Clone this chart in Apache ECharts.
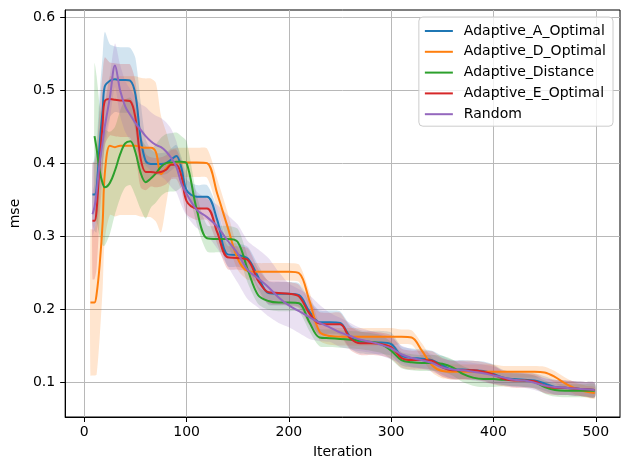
<!DOCTYPE html>
<html>
<head>
<meta charset="utf-8">
<script src="https://cdn.jsdelivr.net/npm/echarts@6/dist/echarts.min.js"></script>
<style>
  html, body { margin: 0; padding: 0; background: #fff; }
  #chart { width: 630px; height: 470px; }
</style>
</head>
<body>
<div id="chart"></div>
<script>
// iterations where values were read
var iterations = [6, 8, 10, 12, 15, 18, 20,
    25, 30, 35, 40, 45, 50, 55, 60, 65, 70, 75, 80, 85, 90, 95, 100,
    110, 120, 130, 140, 150, 160, 170, 180, 190, 200,
    210, 220, 230, 240, 250, 260, 270, 280, 290, 300,
    310, 320, 330, 340, 350, 360, 370, 380, 390, 400,
    410, 420, 430, 440, 450, 460, 470, 480, 490, 499];

var names = ['Adaptive_A_Optimal', 'Adaptive_D_Optimal', 'Adaptive_Distance', 'Adaptive_E_Optimal', 'Random'];
var colors = ['#1f77b4', '#ff7f0e', '#2ca02c', '#d62728', '#9467bd'];

var xTicks = [0, 100, 200, 300, 400, 500];
var yTicks = [0.1, 0.2, 0.3, 0.4, 0.5, 0.6];

// mean mse
var meanA = [null, 0.357, 0.357, 0.365, 0.426, 0.474, 0.505,
    0.513, 0.515, 0.514, 0.514, 0.513, 0.494, 0.435, 0.403, 0.399, 0.399, 0.399, 0.400, 0.405, 0.410, 0.393, 0.363,
    0.354, 0.354, 0.322, 0.275, 0.274, 0.269, 0.244, 0.222, 0.221, 0.221,
    0.219, 0.197, 0.182, 0.182, 0.181, 0.162, 0.155, 0.154, 0.154, 0.152,
    0.136, 0.133, 0.132, 0.130, 0.123, 0.117, 0.117, 0.116, 0.115, 0.111,
    0.106, 0.104, 0.103, 0.102, 0.098, 0.093, 0.092, 0.091, 0.090, 0.089];
var meanD = [0.209, 0.209, 0.209, 0.220, 0.260, 0.320, 0.385,
    0.424, 0.422, 0.424, 0.424, 0.424, 0.424, 0.422, 0.421, 0.421, 0.415, 0.385, 0.393, 0.400, 0.401, 0.401, 0.401,
    0.401, 0.400, 0.358, 0.313, 0.269, 0.252, 0.251, 0.251, 0.251, 0.251,
    0.249, 0.212, 0.169, 0.163, 0.162, 0.162, 0.162, 0.162, 0.162, 0.162,
    0.162, 0.161, 0.143, 0.123, 0.115, 0.114, 0.114, 0.114, 0.114, 0.114,
    0.114, 0.114, 0.114, 0.114, 0.113, 0.107, 0.098, 0.091, 0.087, 0.085];
var meanDist = [null, null, 0.437, 0.420, 0.390, 0.372, 0.367,
    0.373, 0.390, 0.412, 0.427, 0.430, 0.415, 0.387, 0.374, 0.379, 0.386, 0.395, 0.400, 0.401, 0.402, 0.402, 0.400,
    0.336, 0.297, 0.296, 0.296, 0.292, 0.253, 0.219, 0.211, 0.209, 0.209,
    0.208, 0.182, 0.161, 0.160, 0.159, 0.158, 0.157, 0.155, 0.152, 0.143,
    0.130, 0.127, 0.126, 0.126, 0.125, 0.120, 0.111, 0.106, 0.104, 0.104,
    0.103, 0.103, 0.102, 0.100, 0.093, 0.089, 0.088, 0.088, 0.088, 0.088];
var meanE = [null, 0.321, 0.321, 0.335, 0.400, 0.455, 0.485,
    0.488, 0.487, 0.486, 0.486, 0.485, 0.462, 0.407, 0.388, 0.388, 0.387, 0.388, 0.391, 0.398, 0.398, 0.382, 0.348,
    0.338, 0.338, 0.305, 0.271, 0.270, 0.267, 0.239, 0.223, 0.222, 0.221,
    0.217, 0.194, 0.180, 0.179, 0.179, 0.160, 0.153, 0.153, 0.152, 0.148,
    0.133, 0.130, 0.130, 0.129, 0.120, 0.116, 0.116, 0.116, 0.114, 0.110,
    0.104, 0.102, 0.102, 0.101, 0.095, 0.092, 0.092, 0.091, 0.090, 0.089];
var meanR = [null, 0.330, 0.340, 0.360, 0.400, 0.430, 0.450,
    0.490, 0.534, 0.500, 0.478, 0.466, 0.455, 0.446, 0.437, 0.430, 0.425, 0.422, 0.416, 0.407, 0.395, 0.372, 0.358,
    0.336, 0.326, 0.313, 0.294, 0.276, 0.253, 0.242, 0.230, 0.216, 0.205,
    0.197, 0.189, 0.181, 0.175, 0.168, 0.163, 0.158, 0.155, 0.151, 0.146,
    0.138, 0.133, 0.130, 0.126, 0.120, 0.117, 0.116, 0.114, 0.112, 0.109,
    0.106, 0.103, 0.102, 0.099, 0.095, 0.093, 0.092, 0.091, 0.090, 0.089];

// spread (half width of shaded band)
var stdA = [null, 0.04, 0.05, 0.06, 0.07, 0.075, 0.075,
    0.05, 0.045, 0.045, 0.045, 0.045, 0.05, 0.05, 0.03, 0.02, 0.015, 0.015, 0.015, 0.015, 0.015, 0.015, 0.015,
    0.016, 0.016, 0.016, 0.016, 0.016, 0.016, 0.016, 0.016, 0.016, 0.016,
    0.016, 0.016, 0.016, 0.016, 0.016, 0.016, 0.016, 0.016, 0.016, 0.016,
    0.013, 0.013, 0.013, 0.013, 0.013, 0.013, 0.013, 0.013, 0.013, 0.013,
    0.01, 0.01, 0.01, 0.01, 0.01, 0.01, 0.01, 0.01, 0.01, 0.01];
var stdD = [0.10, 0.10, 0.10, 0.11, 0.10, 0.09, 0.09,
    0.095, 0.095, 0.095, 0.095, 0.095, 0.095, 0.095, 0.095, 0.095, 0.095, 0.08, 0.05, 0.02, 0.02, 0.02, 0.02,
    0.02, 0.02, 0.02, 0.02, 0.015, 0.012, 0.012, 0.012, 0.012, 0.012,
    0.012, 0.012, 0.012, 0.012, 0.012, 0.012, 0.012, 0.012, 0.012, 0.012,
    0.01, 0.01, 0.01, 0.01, 0.01, 0.01, 0.01, 0.01, 0.01, 0.01,
    0.008, 0.008, 0.008, 0.008, 0.008, 0.008, 0.008, 0.008, 0.008, 0.008];
var stdDist = [null, null, 0.10, 0.10, 0.09, 0.085, 0.08,
    0.07, 0.06, 0.06, 0.06, 0.06, 0.06, 0.05, 0.05, 0.04, 0.04, 0.04, 0.04, 0.04, 0.04, 0.035, 0.03,
    0.02, 0.018, 0.018, 0.018, 0.018, 0.018, 0.012, 0.012, 0.012, 0.012,
    0.012, 0.012, 0.012, 0.012, 0.012, 0.012, 0.012, 0.012, 0.012, 0.012,
    0.011, 0.011, 0.011, 0.011, 0.011, 0.011, 0.011, 0.011, 0.011, 0.011,
    0.009, 0.009, 0.009, 0.009, 0.009, 0.009, 0.009, 0.009, 0.009, 0.009];
var stdE = [null, 0.08, 0.08, 0.08, 0.075, 0.07, 0.06,
    0.05, 0.05, 0.05, 0.05, 0.05, 0.05, 0.04, 0.025, 0.02, 0.02, 0.02, 0.02, 0.02, 0.02, 0.02, 0.018,
    0.016, 0.016, 0.016, 0.016, 0.016, 0.016, 0.016, 0.016, 0.016, 0.016,
    0.016, 0.016, 0.016, 0.016, 0.016, 0.016, 0.016, 0.016, 0.016, 0.016,
    0.013, 0.013, 0.013, 0.013, 0.013, 0.013, 0.013, 0.013, 0.013, 0.013,
    0.01, 0.01, 0.01, 0.01, 0.01, 0.01, 0.01, 0.01, 0.01, 0.01];
var stdR = [null, 0.03, 0.03, 0.03, 0.03, 0.03, 0.03,
    0.03, 0.03, 0.035, 0.035, 0.035, 0.035, 0.035, 0.04, 0.04, 0.04, 0.04, 0.04, 0.04, 0.035, 0.03, 0.03,
    0.025, 0.025, 0.03, 0.035, 0.04, 0.04, 0.04, 0.04, 0.035, 0.03,
    0.03, 0.03, 0.025, 0.02, 0.02, 0.018, 0.016, 0.015, 0.015, 0.015,
    0.012, 0.012, 0.012, 0.012, 0.012, 0.012, 0.012, 0.012, 0.012, 0.012,
    0.01, 0.01, 0.01, 0.01, 0.01, 0.01, 0.01, 0.01, 0.01, 0.01];

var means = [meanA, meanD, meanDist, meanE, meanR];
var stds = [stdA, stdD, stdDist, stdE, stdR];

var series = [];
for (var k = 0; k < names.length; k++) {
    (function (k) {
        var m = means[k], s = stds[k];
        var line = [], band = [];
        for (var i = 0; i < iterations.length; i++) {
            if (m[i] == null) continue;
            line.push([iterations[i], m[i]]);
            band.push([iterations[i], m[i] - s[i], m[i] + s[i]]);
        }
        // shaded band drawn as one polygon: upper edge then lower edge back
        series.push({
            name: names[k] + '_band', type: 'custom', silent: true, clip: true,
            data: band,
            encode: { x: 0, y: [1, 2] },
            renderItem: function (params, api) {
                if (params.dataIndex !== 0) return null;
                var pts = [];
                for (var j = 0; j < band.length; j++) pts.push(api.coord([band[j][0], band[j][2]]));
                for (var j = band.length - 1; j >= 0; j--) pts.push(api.coord([band[j][0], band[j][1]]));
                return {
                    type: 'polygon',
                    shape: { points: pts, smooth: 0.25 },
                    style: { fill: colors[k], opacity: 0.2 }
                };
            }
        });
        series.push({
            name: names[k], type: 'line',
            data: line,
            symbol: 'none', smooth: 0.35,
            lineStyle: { color: colors[k], width: 2 },
            itemStyle: { color: colors[k] }
        });
    })(k);
}

var chart = echarts.init(document.getElementById('chart'), null, { renderer: 'canvas' });
var font = 'DejaVu Sans';

chart.setOption({
    animation: false,
    backgroundColor: '#fff',
    textStyle: { fontFamily: font },
    grid: {
        left: 61, right: 10, top: 10, bottom: 53,
        show: true, borderColor: '#000', borderWidth: 1, backgroundColor: 'transparent'
    },
    legend: {
        data: names,
        orient: 'vertical',
        right: 17, top: 17,
        icon: 'rect', itemWidth: 28, itemHeight: 2, itemGap: 6.8,
        padding: [7, 7, 5, 6],
        backgroundColor: 'rgba(255,255,255,0.8)',
        borderColor: '#cccccc', borderWidth: 1, borderRadius: 4,
        textStyle: { fontFamily: font, fontSize: 14, color: '#000', padding: [0, 0, 0, 6] }
    },
    xAxis: {
        type: 'value', min: -18.7, max: 523.7,
        name: 'Iteration', nameLocation: 'middle', nameGap: 28,
        nameTextStyle: { fontFamily: font, fontSize: 14, color: '#000' },
        axisLine: { onZero: false, lineStyle: { color: '#000', width: 1 } },
        axisTick: { customValues: xTicks, length: 5, lineStyle: { color: '#000' } },
        axisLabel: { customValues: xTicks, margin: 8, fontSize: 14, color: '#000', fontFamily: font },
        splitLine: { show: true, lineStyle: { color: '#b8b8b8', width: 1 } }
    },
    yAxis: {
        type: 'value', min: 0.052, max: 0.610,
        name: 'mse', nameLocation: 'middle', nameGap: 34,
        nameTextStyle: { fontFamily: font, fontSize: 14, color: '#000' },
        axisLine: { onZero: false, lineStyle: { color: '#000', width: 1 } },
        axisTick: { customValues: yTicks, length: 5, lineStyle: { color: '#000' } },
        axisLabel: {
            customValues: yTicks, margin: 10, fontSize: 14, color: '#000', fontFamily: font,
            formatter: function (v) { return v.toFixed(1); }
        },
        splitLine: { show: true, lineStyle: { color: '#b8b8b8', width: 1 } }
    },
    series: series
});
</script>
</body>
</html>
